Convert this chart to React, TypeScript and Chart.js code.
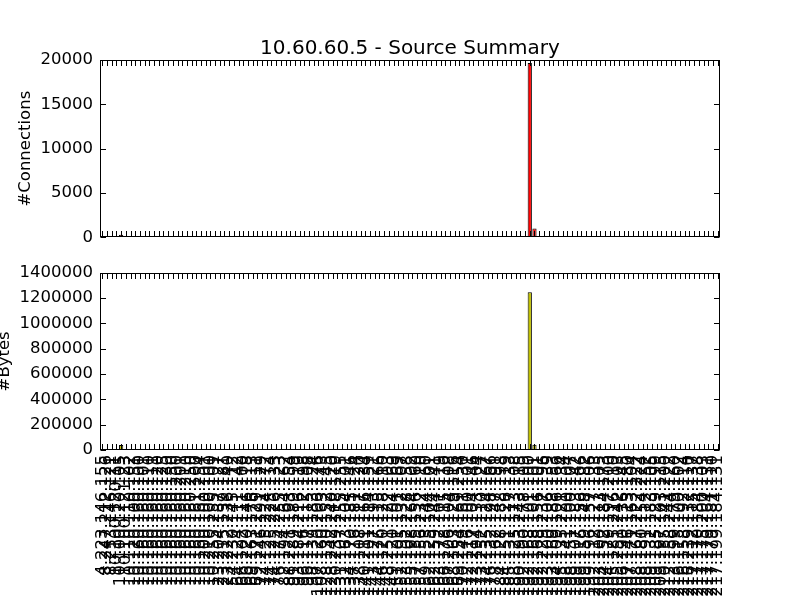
import React, { useEffect, useRef } from "react";
import { Chart, registerables } from "chart.js";

Chart.register(...registerables);

const FONT = "'DejaVu Sans', 'Liberation Sans', sans-serif";
const TITLE = "10.60.60.5 - Source Summary";

const sourceIPs: string[] = [
  "4.223.146.155", "8.247.212.126", "8.253.146.121", "10.100.120.11", "10.100.120.105", "10.100.121.23",
  "10.110.110.102", "10.120.100.151", "10.160.160.100", "10.160.160.101", "10.160.160.110", "10.160.160.111",
  "10.160.160.120", "10.160.160.125", "10.160.160.130", "10.160.160.150", "10.160.160.200", "10.160.160.201",
  "10.160.160.210", "10.160.160.250", "10.160.161.100", "10.160.161.254", "10.200.100.101", "10.210.100.100",
  "10.255.255.101", "23.204.187.127", "23.215.139.181", "23.222.236.140", "54.230.145.112", "64.124.111.142",
  "66.102.111.100", "66.220.146.118", "69.163.176.113", "69.171.229.111", "72.246.191.129", "74.125.224.172",
  "74.125.225.114", "74.125.226.133", "76.174.255.123", "82.194.164.162", "88.221.193.154", "91.189.189.199",
  "93.184.216.119", "96.116.112.198", "96.117.115.108", "98.139.183.124", "107.120.206.176", "108.160.163.143",
  "128.130.152.145", "128.242.240.120", "130.239.118.119", "131.107.255.255", "132.163.104.101", "134.170.185.146",
  "137.116.181.124", "138.108.117.120", "140.211.166.134", "141.101.114.159", "143.127.193.121", "144.176.115.166",
  "146.120.128.110", "148.251.122.103", "149.120.104.169", "151.101.101.169", "152.195.132.107", "153.102.228.158",
  "155.198.164.102", "157.155.156.160", "157.156.232.110", "159.153.144.160", "162.125.104.101", "162.159.244.141",
  "163.172.101.119", "166.178.115.110", "167.206.104.108", "168.163.129.116", "169.254.169.254", "170.149.161.130",
  "172.116.100.101", "172.217.104.146", "173.194.133.104", "173.252.110.127", "174.135.124.167", "176.132.198.166",
  "178.162.147.191", "184.128.188.198", "184.151.126.119", "185.131.117.133", "188.125.173.108", "190.193.243.115",
  "192.100.178.109", "192.168.101.100", "192.168.101.101", "192.168.156.101", "192.229.237.196", "193.100.106.139",
  "193.169.188.153", "194.109.106.166", "195.135.221.134", "198.141.100.104", "198.151.100.107", "199.107.183.142",
  "199.116.156.106", "199.159.148.182", "199.196.157.106", "202.112.127.133", "203.100.113.105", "204.152.184.173",
  "204.179.197.200", "205.185.216.110", "205.251.242.103", "206.190.136.145", "207.146.113.180", "207.171.163.104",
  "208.167.222.222", "208.180.154.224", "208.191.112.152", "209.132.183.105", "209.185.229.199", "209.197.103.115",
  "210.155.141.200", "212.158.244.122", "213.199.179.160", "216.115.100.102", "216.158.192.114", "216.239.132.110",
  "217.112.115.137", "217.170.184.138", "217.175.200.103", "217.179.164.131", "217.179.181.110", "217.199.184.131",
];

const connections: number[] = [
  0, 0, 0, 0, 300, 0, 0, 0, 0, 0, 0, 0,
  0, 0, 0, 0, 0, 0, 0, 0, 0, 0, 0, 0,
  0, 0, 0, 0, 0, 0, 0, 0, 0, 0, 0, 0,
  0, 0, 0, 0, 0, 0, 0, 0, 0, 0, 0, 0,
  0, 0, 0, 0, 0, 0, 0, 0, 0, 0, 0, 0,
  0, 0, 0, 0, 0, 0, 0, 0, 0, 0, 0, 0,
  0, 0, 0, 0, 0, 0, 0, 0, 0, 0, 0, 0,
  0, 0, 0, 0, 0, 0, 0, 19650, 990, 0, 0, 0,
  0, 0, 0, 0, 0, 0, 0, 0, 0, 0, 0, 0,
  0, 0, 0, 0, 0, 0, 0, 0, 0, 0, 0, 0,
  0, 0, 0, 0, 0, 0, 0, 0, 0, 0, 0, 0,
];

const bytes: number[] = [
  0, 0, 0, 0, 40000, 0, 0, 0, 0, 0, 0, 0,
  0, 0, 0, 0, 0, 0, 0, 0, 0, 0, 0, 0,
  0, 0, 0, 0, 0, 0, 0, 0, 0, 0, 0, 8000,
  0, 0, 0, 0, 0, 0, 0, 0, 0, 0, 0, 0,
  0, 0, 0, 0, 0, 0, 0, 0, 0, 0, 0, 0,
  0, 0, 0, 0, 0, 0, 0, 0, 0, 0, 0, 0,
  9000, 0, 0, 0, 8000, 0, 0, 0, 0, 0, 0, 0,
  8000, 0, 0, 0, 0, 0, 0, 1245000, 42000, 0, 0, 0,
  0, 0, 0, 0, 0, 0, 0, 0, 0, 8000, 0, 0,
  0, 0, 0, 0, 0, 0, 0, 0, 0, 0, 0, 0,
  0, 0, 0, 0, 0, 0, 0, 0, 0, 0, 0, 0,
];

const connTicks = { min: 0, max: 20000, step: 5000 };
const byteTicks = { min: 0, max: 1400000, step: 200000 };

const framePlugin = {
  id: "mplFrame",
  afterDraw(chart: any) {
    const { ctx, chartArea: a, scales } = chart;
    const L = 5.5;
    const left = Math.round(a.left) + 0.5;
    const right = Math.round(a.right) - 0.5;
    const top = Math.round(a.top) + 0.5;
    const bottom = Math.round(a.bottom) - 0.5;
    ctx.save();
    ctx.strokeStyle = "#000";
    ctx.lineWidth = 1;
    ctx.beginPath();
    const xs = scales.x;
    xs.ticks.forEach((_: any, i: number) => {
      const px = Math.round(xs.getPixelForTick(i)) + 0.5;
      ctx.moveTo(px, bottom);
      ctx.lineTo(px, bottom - L);
      ctx.moveTo(px, top);
      ctx.lineTo(px, top + L);
    });
    const ys = scales.y;
    ys.ticks.forEach((_: any, i: number) => {
      const py = Math.round(ys.getPixelForTick(i)) + 0.5;
      ctx.moveTo(left, py);
      ctx.lineTo(left + L, py);
      ctx.moveTo(right, py);
      ctx.lineTo(right - L, py);
    });
    ctx.stroke();
    ctx.strokeRect(left, top, right - left, bottom - top);
    ctx.restore();
  },
};

function makeConfig(opts: {
  values: number[];
  color: string;
  range: { min: number; max: number; step: number };
  yTitle: string;
  yTitlePad: number;
  padTop: number;
  padBottom: number;
  showTitle: boolean;
  showX: boolean;
  xHeight: number;
}): any {
  return {
    type: "bar",
    data: {
      labels: sourceIPs,
      datasets: [
        {
          data: opts.values,
          backgroundColor: opts.color,
          borderColor: "#000",
          borderWidth: 1,
          borderSkipped: false,
          barPercentage: 0.9,
          categoryPercentage: 1,
        },
      ],
    },
    options: {
      responsive: false,
      animation: false,
      devicePixelRatio: 1,
      layout: { padding: { left: 0, right: 80, top: opts.padTop, bottom: opts.padBottom } },
      plugins: {
        legend: { display: false },
        tooltip: { enabled: false },
        title: {
          display: opts.showTitle,
          fullSize: false,
          text: TITLE,
          color: "#000",
          font: { family: FONT, size: 20, weight: "normal", lineHeight: 1.2 },
          padding: { top: 37, bottom: -1 },
        },
      },
      scales: {
        x: {
          type: "category",
          offset: true,
          grid: { display: false, drawTicks: false },
          border: { display: false },
          ticks: {
            display: opts.showX,
            autoSkip: false,
            minRotation: 90,
            maxRotation: 90,
            padding: 5,
            color: "#000",
            font: { family: FONT, size: 16.5 },
          },
          afterFit: (s: any) => {
            s.height = opts.xHeight;
          },
        },
        y: {
          min: opts.range.min,
          max: opts.range.max,
          grid: { display: false, drawTicks: false },
          border: { display: false },
          ticks: {
            stepSize: opts.range.step,
            padding: 7,
            color: "#000",
            font: { family: FONT, size: 16.5 },
            callback: (v: any) => String(v),
          },
          title: {
            display: true,
            text: opts.yTitle,
            color: "#000",
            font: { family: FONT, size: 16.5, lineHeight: 1.2 },
            padding: { top: opts.yTitlePad, bottom: 0 },
          },
          afterFit: (s: any) => {
            s.width = 100;
          },
        },
      },
    },
    plugins: [framePlugin],
  };
}

export default function App() {
  const topRef = useRef<HTMLCanvasElement>(null);
  const botRef = useRef<HTMLCanvasElement>(null);

  useEffect(() => {
    Chart.defaults.font.family = FONT;
    Chart.defaults.color = "#000";
    const c1 = new Chart(
      topRef.current as HTMLCanvasElement,
      makeConfig({
        values: connections,
        color: "#ff0000",
        range: connTicks,
        yTitle: "#Connections",
        yTitlePad: 16.1,
        padTop: 0,
        padBottom: 362.7,
        showTitle: true,
        showX: false,
        xHeight: 0,
      })
    );
    const c2 = new Chart(
      botRef.current as HTMLCanvasElement,
      makeConfig({
        values: bytes,
        color: "#bfbf00",
        range: byteTicks,
        yTitle: "#Bytes",
        yTitlePad: -4.9,
        padTop: 272.7,
        padBottom: 0,
        showTitle: false,
        showX: true,
        xHeight: 150,
      })
    );
    return () => {
      c1.destroy();
      c2.destroy();
    };
  }, []);

  const canvasStyle: React.CSSProperties = { position: "absolute", left: 0, top: 0 };
  return (
    <div style={{ position: "fixed", left: 0, top: 0, width: 800, height: 600, background: "#fff", overflow: "hidden" }}>
      <canvas ref={topRef} width={800} height={600} style={canvasStyle} />
      <canvas ref={botRef} width={800} height={600} style={canvasStyle} />
    </div>
  );
}
